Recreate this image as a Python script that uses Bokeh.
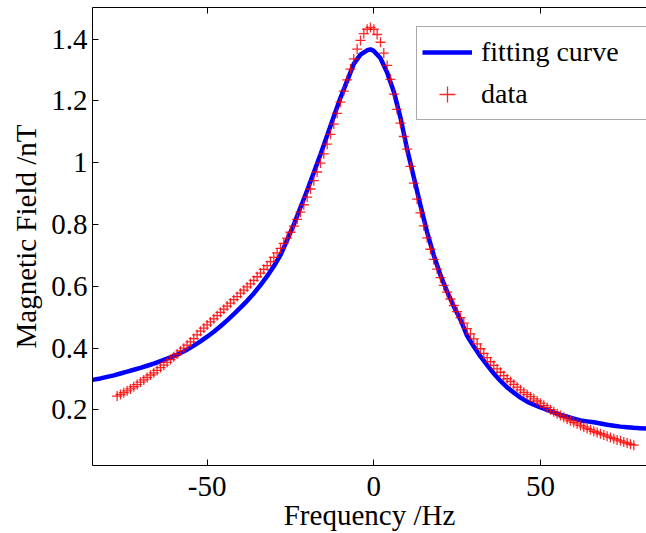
from bokeh.plotting import figure
from bokeh.models import (Range1d, FixedTicker, CustomJSTickFormatter, LinearAxis,
                          Legend, LegendItem)
from bokeh.embed import file_html
from bokeh.resources import INLINE

# ---------------- data ----------------
freq_data = [-77, -76, -75, -74, -73, -72, -71, -70, -69, -68, -67, -66, -65, -64, -63,
             -62, -61, -60, -59, -58, -57, -56, -55, -54, -53, -52, -51, -50, -49, -48,
             -47, -46, -45, -44, -43, -42, -41, -40, -39, -38, -37, -36, -35, -34, -33,
             -32, -31, -30, -29, -28, -27, -26, -25, -24, -23, -22, -21, -20, -19, -18,
             -17, -16, -15, -14, -13, -12, -11, -10, -9, -8, -7, -6, -5, -4, -3,
             -2, -1, 0, 1, 2, 3, 4, 5, 6, 7, 8, 9, 10, 11, 12,
             13, 14, 15, 16, 17, 18, 19, 20, 21, 22, 23, 24, 25, 26, 27,
             28, 29, 30, 31, 32, 33, 34, 35, 36, 37, 38, 39, 40, 41, 42,
             43, 44, 45, 46, 47, 48, 49, 50, 51, 52, 53, 54, 55, 56, 57,
             58, 59, 60, 61, 62, 63, 64, 65, 66, 67, 68, 69, 70, 71, 72,
             73, 74, 75, 76, 77, 78]
field_data = [0.245, 0.250, 0.256, 0.262, 0.268, 0.275, 0.282, 0.290, 0.297, 0.305, 0.313, 0.320, 0.328, 0.337, 0.345,
              0.354, 0.363, 0.372, 0.381, 0.391, 0.400, 0.410, 0.420, 0.431, 0.443, 0.455, 0.465, 0.475, 0.485, 0.495,
              0.505, 0.516, 0.526, 0.536, 0.546, 0.557, 0.567, 0.578, 0.588, 0.598, 0.608, 0.619, 0.631, 0.643, 0.655,
              0.667, 0.680, 0.694, 0.708, 0.723, 0.739, 0.756, 0.775, 0.795, 0.817, 0.840, 0.864, 0.889, 0.915, 0.942,
              0.970, 0.999, 1.029, 1.060, 1.092, 1.125, 1.160, 1.196, 1.232, 1.268, 1.303, 1.336, 1.368, 1.396, 1.418,
              1.432, 1.438, 1.432, 1.415, 1.390, 1.355, 1.315, 1.270, 1.222, 1.173, 1.128, 1.085, 1.044, 0.988, 0.934,
              0.882, 0.838, 0.796, 0.757, 0.720, 0.687, 0.656, 0.628, 0.603, 0.581, 0.559, 0.538, 0.518, 0.499, 0.481,
              0.463, 0.446, 0.430, 0.414, 0.398, 0.383, 0.369, 0.356, 0.344, 0.333, 0.322, 0.311, 0.301, 0.292, 0.283,
              0.274, 0.265, 0.257, 0.250, 0.243, 0.236, 0.229, 0.222, 0.215, 0.208, 0.201, 0.194, 0.188, 0.182, 0.176,
              0.171, 0.165, 0.160, 0.155, 0.150, 0.145, 0.140, 0.136, 0.131, 0.127, 0.123, 0.119, 0.115, 0.111, 0.107,
              0.103, 0.100, 0.096, 0.093, 0.089, 0.086]

freq_fit = [-86, -84, -82, -80, -78, -76, -74, -72, -70, -68, -66, -64, -62, -60, -58,
            -56, -54, -52, -50, -48, -46, -44, -42, -40, -38, -36, -34, -32, -30, -28,
            -26, -24, -22, -20, -18, -16, -14, -12, -10, -8, -6, -4, -2, -1, 0,
            2, 4, 6, 8, 10, 12, 14, 16, 18, 20, 22, 24, 26, 28, 30,
            32, 34, 36, 38, 40, 42, 44, 46, 48, 50, 52, 54, 56, 58, 60,
            62, 64, 66, 68, 70, 72, 74, 76, 78, 80, 82, 84]
field_fit = [0.294, 0.298, 0.302, 0.307, 0.312, 0.318, 0.324, 0.330, 0.336, 0.343, 0.350, 0.358, 0.366, 0.374, 0.384,
             0.395, 0.408, 0.422, 0.437, 0.453, 0.471, 0.490, 0.510, 0.531, 0.553, 0.577, 0.604, 0.633, 0.665, 0.701,
             0.750, 0.800, 0.855, 0.910, 0.968, 1.027, 1.088, 1.150, 1.210, 1.265, 1.320, 1.350, 1.364, 1.367, 1.362,
             1.338, 1.292, 1.230, 1.146, 1.044, 0.953, 0.862, 0.775, 0.700, 0.636, 0.583, 0.535, 0.492, 0.440, 0.405,
             0.373, 0.345, 0.318, 0.294, 0.273, 0.256, 0.240, 0.227, 0.217, 0.208, 0.200, 0.192, 0.184, 0.178, 0.172,
             0.166, 0.163, 0.160, 0.156, 0.152, 0.149, 0.146, 0.144, 0.142, 0.141, 0.140, 0.139]

x_ticks = [-50, 0, 50]
y_ticks = [0.2, 0.4, 0.6, 0.8, 1.0, 1.2, 1.4]
legend_labels = ["fitting curve", "data"]
x_label = "Frequency /Hz"
y_label = "Magnetic Field /nT"

# ---------------- figure ----------------
FONT = "Liberation Serif"
FS = "29px"

p = figure(width=646, height=533, output_backend="svg", toolbar_location=None,
           x_range=Range1d(-84.39, 81.81), y_range=Range1d(0.0202, 1.5024),
           min_border_left=92, min_border_right=0, min_border_top=7, min_border_bottom=66)
p.grid.visible = False
p.outline_line_color = None
p.background_fill_color = "white"
p.border_fill_color = "white"

line_r = p.line(freq_fit, field_fit, line_color="#0000ff", line_width=4.5)
scat_r = p.scatter(freq_data, field_data, marker="cross", size=10,
                   line_color="#ff0000", line_width=1.3, line_alpha=0.85)

fmt_y = CustomJSTickFormatter(code="return tick.toFixed(1).replace(/\\.0$/, '');")
fmt_x = CustomJSTickFormatter(code="return tick.toFixed(0);")

for ax, ticks, fmt in ((p.xaxis[0], x_ticks, fmt_x), (p.yaxis[0], y_ticks, fmt_y)):
    ax.ticker = FixedTicker(ticks=ticks)
    ax.formatter = fmt
    ax.major_tick_in = 6
    ax.major_tick_out = 0
    ax.minor_tick_line_color = None
    ax.axis_line_color = "black"
    ax.major_tick_line_color = "black"
    ax.major_label_text_font = FONT
    ax.major_label_text_font_size = FS
    ax.major_label_text_color = "black"
    ax.axis_label_text_font = FONT
    ax.axis_label_text_font_size = FS
    ax.axis_label_text_font_style = "normal"
    ax.axis_label_text_color = "black"

p.xaxis[0].axis_label = x_label
p.yaxis[0].axis_label = y_label
p.xaxis[0].major_label_standoff = 11
p.yaxis[0].major_label_standoff = 5
p.xaxis[0].axis_label_standoff = 0
p.yaxis[0].axis_label_standoff = 6

# top frame edge with inward ticks, no labels
top_axis = LinearAxis(ticker=FixedTicker(ticks=x_ticks), major_tick_in=6, major_tick_out=0,
                      minor_tick_line_color=None, axis_line_color="black",
                      major_tick_line_color="black", major_label_text_color=None,
                      major_label_text_font_size="1px", major_label_standoff=0)
p.add_layout(top_axis, "above")

legend = Legend(items=[LegendItem(label=legend_labels[0], renderers=[line_r]),
                       LegendItem(label=legend_labels[1], renderers=[scat_r])],
                location=(324, 345), padding=5, spacing=2, margin=0,
                glyph_width=50, glyph_height=40, label_height=40, label_width=200,
                label_standoff=9, label_text_font=FONT, label_text_font_size="28px",
                label_text_color="black", border_line_color="#555555",
                border_line_width=1, background_fill_color="white",
                background_fill_alpha=1)
p.add_layout(legend)

open("out.html", "w").write(file_html(p, INLINE))
